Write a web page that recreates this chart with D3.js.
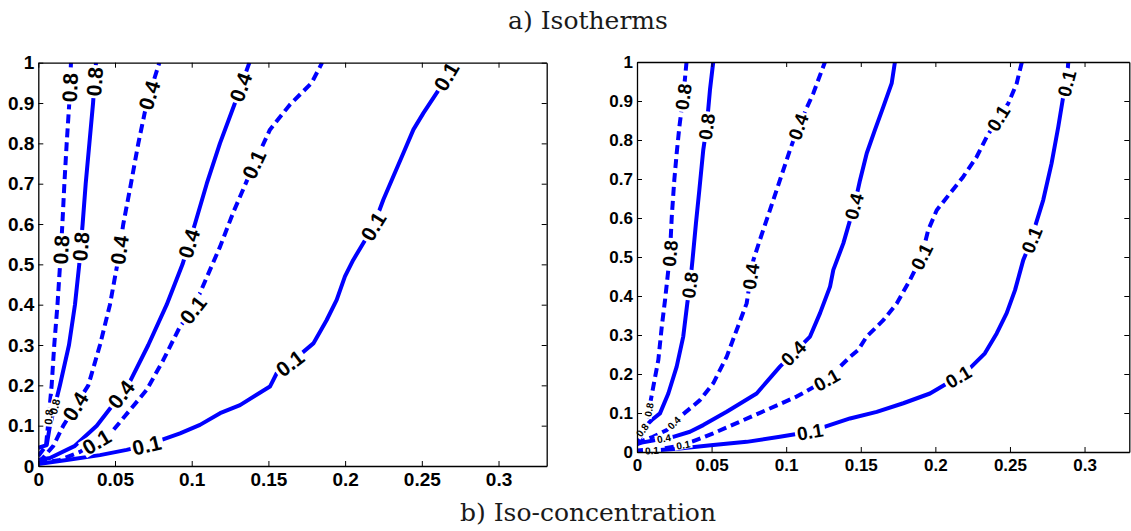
<!DOCTYPE html>
<html><head><meta charset="utf-8">
<script src="https://cdn.jsdelivr.net/npm/d3@7"></script>
<style>body{margin:0;background:#fff} svg{display:block}</style>
</head><body>
<svg id="chart" width="1131" height="531"></svg>
<script>
// ---------- tick values & labels ----------
const xTickVals = [0, 0.05, 0.1, 0.15, 0.2, 0.25, 0.3];
const xTickLabels = ["0", "0.05", "0.1", "0.15", "0.2", "0.25", "0.3"];
const yTickVals = [0, 0.1, 0.2, 0.3, 0.4, 0.5, 0.6, 0.7, 0.8, 0.9, 1];
const yTickLabels = ["0", "0.1", "0.2", "0.3", "0.4", "0.5", "0.6", "0.7", "0.8", "0.9", "1"];
const titles = ["a) Isotherms", "b) Iso-concentration"];

// ---------- panel a) Isotherms : contour lines [x, y] ----------
const aSolid01 = [[0,0.005],[0.0185,0.015],[0.0402,0.027],[0.0576,0.04],[0.0707,0.052],[0.0924,0.081],[0.1054,0.102],[0.1185,0.131],[0.1315,0.151],[0.151,0.197],[0.1554,0.23],[0.164,0.255],[0.1793,0.304],[0.188,0.362],[0.1945,0.412],[0.1999,0.47],[0.2053,0.511],[0.2119,0.553],[0.2184,0.594],[0.2249,0.66],[0.2314,0.718],[0.238,0.776],[0.2445,0.834],[0.251,0.875],[0.2597,0.925],[0.266,0.966],[0.270,1.0]];
const aDashed01 = [[0,0.007],[0.0141,0.015],[0.0272,0.035],[0.038,0.06],[0.0489,0.089],[0.0598,0.139],[0.0707,0.189],[0.0815,0.263],[0.0924,0.346],[0.1008,0.387],[0.1054,0.429],[0.1185,0.544],[0.127,0.628],[0.140,0.743],[0.151,0.834],[0.164,0.896],[0.1782,0.95],[0.185,1.0]];
const aSolid04 = [[0,0.015],[0.0076,0.02],[0.0239,0.05],[0.0381,0.1],[0.0585,0.2],[0.0717,0.3],[0.0837,0.4],[0.094,0.5],[0.1021,0.6],[0.1098,0.7],[0.1184,0.8],[0.1282,0.9],[0.1376,1.0]];
const aDashed04 = [[0,0.01],[0.003,0.02],[0.0098,0.05],[0.0163,0.1],[0.0326,0.2],[0.0402,0.3],[0.0467,0.4],[0.0515,0.5],[0.0554,0.6],[0.0604,0.7],[0.0652,0.8],[0.0707,0.9],[0.0789,1.0]];
const aSolid08 = [[0,0.045],[0.0055,0.052],[0.0076,0.1],[0.0141,0.2],[0.02,0.3],[0.0239,0.4],[0.0267,0.5],[0.0289,0.6],[0.0309,0.7],[0.0333,0.8],[0.0357,0.9],[0.0376,1.0]];
const aDashed08 = [[0,0.025],[0.005,0.05],[0.0063,0.1],[0.0087,0.2],[0.0104,0.3],[0.0125,0.4],[0.0142,0.5],[0.0157,0.6],[0.017,0.7],[0.0185,0.8],[0.0202,0.9],[0.0213,1.0]];

// label anchor points [x, y, small?]
const aSolid01Labels = [[0.266,0.966,0],[0.2184,0.594,0],[0.164,0.255,0],[0.0707,0.052,0]];
const aDashed01Labels = [[0.141,0.747,0],[0.1008,0.387,0],[0.038,0.06,0]];
const aSolid04Labels = [[0.1315,0.94,0],[0.0967,0.553,0],[0.0544,0.176,0]];
const aDashed04Labels = [[0.0716,0.92,0],[0.052,0.536,0],[0.0245,0.147,0]];
const aSolid08Labels = [[0.037,0.953,0],[0.0285,0.544,0],[0.011,0.147,1]];
const aDashed08Labels = [[0.0207,0.938,0],[0.015,0.536,0],[0.0059,0.122,1]];

// ---------- panel b) Iso-concentration ----------
const bSolid01 = [[0,0.002],[0.0154,0.005],[0.0288,0.009],[0.0511,0.018],[0.0735,0.026],[0.0958,0.039],[0.116,0.052],[0.1428,0.086],[0.1607,0.103],[0.1785,0.125],[0.1964,0.15],[0.2154,0.193],[0.2232,0.215],[0.2332,0.253],[0.2411,0.304],[0.2478,0.356],[0.2534,0.415],[0.2589,0.492],[0.2645,0.544],[0.2668,0.578],[0.2723,0.646],[0.2779,0.74],[0.2824,0.834],[0.2857,0.911],[0.288,0.945],[0.2891,1.0]];
const bDashed01 = [[0,0.004],[0.0176,0.009],[0.031,0.018],[0.04,0.031],[0.0511,0.048],[0.0668,0.074],[0.0869,0.108],[0.107,0.142],[0.1271,0.185],[0.1428,0.244],[0.1483,0.262],[0.154,0.296],[0.1651,0.338],[0.1741,0.381],[0.183,0.441],[0.1908,0.501],[0.1952,0.569],[0.2009,0.62],[0.2098,0.663],[0.2187,0.706],[0.2277,0.757],[0.2344,0.808],[0.2422,0.856],[0.2489,0.894],[0.2545,0.945],[0.258,1.0]];
const bSolid04 = [[0,0.02],[0.0032,0.024],[0.0243,0.039],[0.0355,0.052],[0.0444,0.069],[0.0601,0.103],[0.0802,0.15],[0.0958,0.219],[0.1048,0.253],[0.116,0.296],[0.1227,0.356],[0.1294,0.424],[0.1316,0.467],[0.1383,0.535],[0.1461,0.638],[0.1495,0.697],[0.154,0.766],[0.1595,0.826],[0.1651,0.885],[0.1707,0.945],[0.1729,1.0]];
const bDashed04 = [[0,0.02],[0.002,0.026],[0.0107,0.039],[0.0199,0.056],[0.0288,0.09],[0.0422,0.133],[0.0511,0.176],[0.0601,0.244],[0.0668,0.313],[0.0735,0.381],[0.078,0.492],[0.0824,0.544],[0.0891,0.62],[0.0958,0.697],[0.1025,0.774],[0.1081,0.834],[0.1182,0.92],[0.126,1.0]];
const bSolid08 = [[0,0.04],[0.002,0.048],[0.0054,0.065],[0.0099,0.082],[0.0154,0.099],[0.021,0.15],[0.0266,0.219],[0.031,0.296],[0.0337,0.381],[0.0355,0.428],[0.0372,0.492],[0.0395,0.586],[0.0418,0.672],[0.0444,0.774],[0.0467,0.834],[0.0489,0.928],[0.0511,1.0]];
const bDashed08 = [[0,0.02],[0.0009,0.026],[0.0042,0.056],[0.0076,0.099],[0.0109,0.167],[0.0143,0.236],[0.0166,0.321],[0.0188,0.39],[0.021,0.467],[0.0221,0.509],[0.0233,0.603],[0.025,0.697],[0.0266,0.766],[0.0284,0.834],[0.031,0.911],[0.0332,1.0]];

const bSolid01Labels = [[0.288,0.945,0],[0.2645,0.544,0],[0.2154,0.193,0],[0.116,0.052,0],[0.010,0.005,1]];
const bDashed01Labels = [[0.2422,0.856,0],[0.1908,0.501,0],[0.1271,0.185,0],[0.031,0.018,1]];
const bSolid04Labels = [[0.145,0.63,0],[0.1048,0.253,0],[0.018,0.035,1]];
const bDashed04Labels = [[0.1081,0.834,0],[0.0765,0.45,0],[0.025,0.074,1]];
const bSolid08Labels = [[0.0467,0.834,0],[0.0355,0.428,0],[0.004,0.055,1]];
const bDashed08Labels = [[0.031,0.911,0],[0.0221,0.509,0],[0.0089,0.108,1]];

const levels = ["0.1", "0.4", "0.8"];

const panels = [
  { id: "a", left: 38.3, right: 546.7, top: 62.7, bottom: 466, xmax: 0.3314,
    tickFs: 19, labelFs: 21, smallFs: 11,
    curves: [
      { data: aSolid01, dashed: false, level: levels[0], labels: aSolid01Labels },
      { data: aDashed01, dashed: true, level: levels[0], labels: aDashed01Labels },
      { data: aSolid04, dashed: false, level: levels[1], labels: aSolid04Labels },
      { data: aDashed04, dashed: true, level: levels[1], labels: aDashed04Labels },
      { data: aSolid08, dashed: false, level: levels[2], labels: aSolid08Labels },
      { data: aDashed08, dashed: true, level: levels[2], labels: aDashed08Labels }
    ] },
  { id: "b", left: 637, right: 1129.3, top: 62, bottom: 452, xmax: 0.33,
    tickFs: 17, labelFs: 19, smallFs: 10,
    curves: [
      { data: bSolid01, dashed: false, level: levels[0], labels: bSolid01Labels },
      { data: bDashed01, dashed: true, level: levels[0], labels: bDashed01Labels },
      { data: bSolid04, dashed: false, level: levels[1], labels: bSolid04Labels },
      { data: bDashed04, dashed: true, level: levels[1], labels: bDashed04Labels },
      { data: bSolid08, dashed: false, level: levels[2], labels: bSolid08Labels },
      { data: bDashed08, dashed: true, level: levels[2], labels: bDashed08Labels }
    ] }
];

const svg = d3.select("#chart");
const defs = svg.append("defs");
const tickFont = "'Liberation Sans', Arial, Helvetica, sans-serif";

function project(pts, p) {
  let best = null;
  for (let i = 0; i < pts.length - 1; i++) {
    const a = pts[i], b = pts[i + 1];
    const dx = b[0] - a[0], dy = b[1] - a[1];
    const L2 = dx * dx + dy * dy || 1e-9;
    let t = ((p[0] - a[0]) * dx + (p[1] - a[1]) * dy) / L2;
    t = Math.max(0, Math.min(1, t));
    const q = [a[0] + t * dx, a[1] + t * dy];
    const d = Math.hypot(q[0] - p[0], q[1] - p[1]);
    if (!best || d < best.d) best = { d, q, dx, dy };
  }
  return best;
}

panels.forEach(cfg => {
  const x = d3.scaleLinear().domain([0, cfg.xmax]).range([cfg.left, cfg.right]);
  const y = d3.scaleLinear().domain([0, 1]).range([cfg.bottom, cfg.top]);
  const g = svg.append("g");

  const clipId = "clip-" + cfg.id, maskId = "mask-" + cfg.id;
  defs.append("clipPath").attr("id", clipId).append("rect")
    .attr("x", cfg.left).attr("y", cfg.top)
    .attr("width", cfg.right - cfg.left).attr("height", cfg.bottom - cfg.top);
  const mask = defs.append("mask").attr("id", maskId)
    .attr("maskUnits", "userSpaceOnUse")
    .attr("x", 0).attr("y", 0).attr("width", 1131).attr("height", 531);
  mask.append("rect").attr("x", 0).attr("y", 0).attr("width", 1131).attr("height", 531).attr("fill", "white");

  const lineGen = d3.line().x(d => x(d[0])).y(d => y(d[1]));
  const clipG = g.append("g").attr("clip-path", `url(#${clipId})`);
  const linesG = clipG.append("g").attr("mask", `url(#${maskId})`);
  const labelsG = g.append("g");

  cfg.curves.forEach(c => {
    linesG.append("path")
      .attr("d", lineGen(c.data))
      .attr("fill", "none")
      .attr("stroke", "#0000ff")
      .attr("stroke-width", 4)
      .attr("stroke-linejoin", "round")
      .attr("stroke-dasharray", c.dashed ? "9,5" : null);

    const pts = c.data.map(d => [x(d[0]), y(d[1])]);
    c.labels.forEach(L => {
      const pr = project(pts, [x(L[0]), y(L[1])]);
      let dx = pr.dx, dy = pr.dy;
      if (dx < 0) { dx = -dx; dy = -dy; }
      const ang = Math.atan2(dy, dx) * 180 / Math.PI;
      const fs = L[2] ? cfg.smallFs : cfg.labelFs;
      const tr = `translate(${pr.q[0].toFixed(2)},${pr.q[1].toFixed(2)}) rotate(${ang.toFixed(2)})`;
      const t = labelsG.append("text")
        .attr("transform", tr)
        .attr("text-anchor", "middle")
        .attr("dy", "0.36em")
        .attr("font-family", tickFont)
        .attr("font-weight", "bold")
        .attr("font-size", fs)
        .attr("fill", "#000")
        .text(c.level);
      const w = t.node().getComputedTextLength();
      mask.append("rect")
        .attr("transform", tr)
        .attr("x", -w / 2 - 2).attr("y", -fs * 0.42)
        .attr("width", w + 4).attr("height", fs * 0.84)
        .attr("fill", "black");
    });
  });

  // axes (ticks pointing inward, MATLAB style box)
  const styleAxis = sel => {
    sel.attr("font-family", tickFont).attr("font-size", cfg.tickFs).attr("font-weight", "bold");
    sel.select(".domain").attr("stroke", "#000").attr("stroke-width", 1.3);
    sel.selectAll(".tick line").attr("stroke", "#000").attr("stroke-width", 1);
    sel.selectAll(".tick text").attr("fill", "#000");
  };
  g.append("g").attr("transform", `translate(0,${cfg.bottom})`)
    .call(d3.axisBottom(x).tickValues(xTickVals).tickFormat((d, i) => xTickLabels[i])
      .tickSizeInner(-5).tickSizeOuter(0).tickPadding(7))
    .call(styleAxis);
  g.append("g").attr("transform", `translate(0,${cfg.top})`)
    .call(d3.axisTop(x).tickValues(xTickVals).tickFormat("")
      .tickSizeInner(-5).tickSizeOuter(0))
    .call(styleAxis);
  g.append("g").attr("transform", `translate(${cfg.left},0)`)
    .call(d3.axisLeft(y).tickValues(yTickVals).tickFormat((d, i) => yTickLabels[i])
      .tickSizeInner(-5).tickSizeOuter(0).tickPadding(4))
    .call(styleAxis);
  g.append("g").attr("transform", `translate(${cfg.right},0)`)
    .call(d3.axisRight(y).tickValues(yTickVals).tickFormat("")
      .tickSizeInner(-5).tickSizeOuter(0))
    .call(styleAxis);
});

// titles
const titleFont = "'DejaVu Serif', 'Liberation Serif', serif";
svg.append("text").attr("x", 588).attr("y", 29).attr("text-anchor", "middle")
  .attr("font-family", titleFont).attr("font-size", 25).attr("fill", "#1a1a1a")
  .text(titles[0]);
svg.append("text").attr("x", 588).attr("y", 521).attr("text-anchor", "middle")
  .attr("font-family", titleFont).attr("font-size", 25).attr("fill", "#1a1a1a")
  .text(titles[1]);
</script>
</body></html>
